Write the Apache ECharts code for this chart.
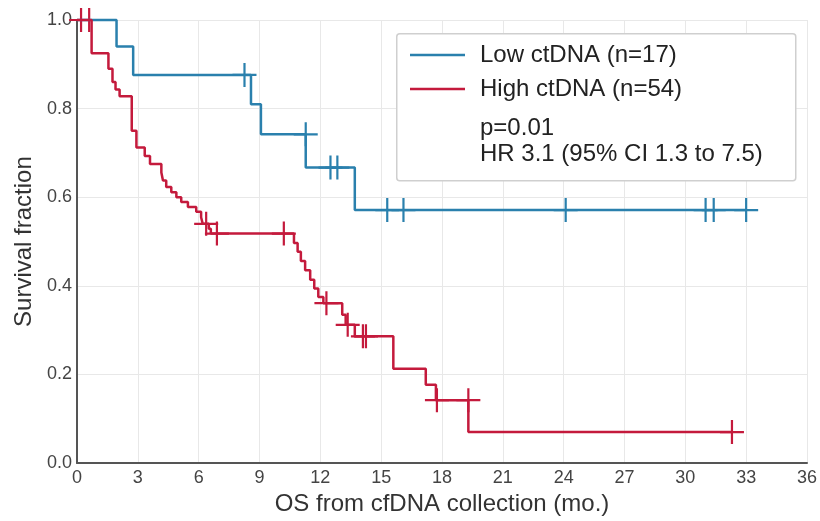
<!DOCTYPE html>
<html>
<head>
<meta charset="utf-8">
<script src="https://cdn.jsdelivr.net/npm/echarts@6/dist/echarts.min.js"></script>
<style>
  html, body { margin: 0; padding: 0; background: #fff; }
  #main { width: 820px; height: 521px; }
</style>
</head>
<body>
<div id="main"></div>
<script>
// x ticks (months) and y ticks
var xTicks = [0, 3, 6, 9, 12, 15, 18, 21, 24, 27, 30, 33, 36];
var yTicks = [0, 0.2, 0.4, 0.6, 0.8, 1.0];

// Low ctDNA (n=17): event times and survival after each step
var lowTimes = [0, 1.95, 2.77, 8.58, 9.07, 11.28, 13.7, 33.0];
var lowSurv  = [1.0, 0.940, 0.876, 0.810, 0.742, 0.667, 0.571, 0.571];
var lowCensor = [8.26, 11.28, 12.5, 12.84, 15.3, 16.1, 24.1, 31.0, 31.4, 33.0];

// High ctDNA (n=54)
var highTimes = [0, 0.72, 1.55, 1.75, 1.9, 2.1, 2.7, 2.93, 3.34, 3.6, 4.16, 4.24, 4.4, 4.65, 4.9,
  5.14, 5.47, 5.88, 6.12, 6.2, 6.5, 6.6, 10.7, 10.88, 11.04, 11.25, 11.5, 11.7, 11.9, 12.15,
  13.08, 13.25, 13.7, 15.6, 17.2, 17.7, 19.3, 32.3];
var highSurv  = [1.0, 0.925, 0.89, 0.86, 0.843, 0.828, 0.75, 0.712, 0.693, 0.675, 0.656, 0.638, 0.623, 0.611, 0.600,
  0.589, 0.578, 0.567, 0.555, 0.540, 0.529, 0.518, 0.497, 0.477, 0.456, 0.435, 0.414, 0.394, 0.375, 0.361,
  0.335, 0.312, 0.286, 0.213, 0.177, 0.142, 0.07, 0.07];
var highCensor = [0.2, 0.6, 6.37, 6.9, 10.2, 12.3, 13.35, 14.1, 14.25, 17.75, 19.3, 32.3];

var blue = '#2a80ad';
var red = '#c41a3c';
var plus = 'path://M-1.1,-12 H1.1 V-1.1 H12 V1.1 H1.1 V12 H-1.1 V1.1 H-12 V-1.1 H-1.1 Z';

// survival value just before time t
function survAt(times, surv, t) {
  var v = surv[0];
  for (var i = 0; i < times.length; i++) {
    if (times[i] < t) v = surv[i];
  }
  return v;
}
function pairs(times, surv) {
  return times.map(function (t, i) { return [t, surv[i]]; });
}
function censorPts(c, times, surv) {
  return c.map(function (t) { return [t, survAt(times, surv, t)]; });
}

var chart = echarts.init(document.getElementById('main'));
var font = 'Liberation Sans, Arial, sans-serif';

chart.setOption({
  backgroundColor: '#fff',
  animation: false,
  grid: { left: 77, right: 10, top: 20, bottom: 54 },
  xAxis: {
    type: 'value', min: 0, max: 36, interval: 3,
    name: 'OS from cfDNA collection (mo.)',
    nameLocation: 'middle', nameGap: 27,
    nameTextStyle: { fontSize: 24, color: '#333', fontFamily: font },
    axisLine: { show: true, onZero: false, lineStyle: { color: '#555', width: 2 } },
    axisTick: { show: false },
    axisLabel: { fontSize: 18, color: '#444', margin: 6, fontFamily: font,
      formatter: function (v) { return xTicks.indexOf(v) >= 0 ? String(v) : ''; } },
    splitLine: { show: true, lineStyle: { color: '#e8e8e8', width: 1 } }
  },
  yAxis: {
    type: 'value', min: 0, max: 1, interval: 0.2,
    name: 'Survival fraction',
    nameLocation: 'middle', nameGap: 36,
    nameTextStyle: { fontSize: 24, color: '#333', fontFamily: font },
    axisLine: { show: true, lineStyle: { color: '#555', width: 2 } },
    axisTick: { show: false },
    axisLabel: { fontSize: 18, color: '#444', margin: 5, fontFamily: font,
      formatter: function (v) { return v.toFixed(1); } },
    splitLine: { show: true, lineStyle: { color: '#e8e8e8', width: 1 } }
  },
  legend: {
    orient: 'vertical', left: 405, top: 38, itemGap: 10, z: 20,
    icon: 'rect', itemWidth: 55, itemHeight: 2.5,
    data: ['Low ctDNA (n=17)', 'High ctDNA (n=54)'],
    textStyle: { fontSize: 24, color: '#222', fontFamily: font, padding: [0, 0, 0, 10] }
  },
  graphic: [
    { type: 'rect', left: 396, top: 33, z: 5,
      shape: { width: 399, height: 147, r: 3 },
      style: { fill: '#fff', stroke: '#cfcfcf', lineWidth: 1.5 } },
    { type: 'text', left: 480, top: 115, z: 6,
      style: { text: 'p=0.01\nHR 3.1 (95% CI 1.3 to 7.5)', fontSize: 24, lineHeight: 26,
        fill: '#222', fontFamily: font } }
  ],
  series: [
    { name: 'Low ctDNA (n=17)', type: 'line', step: 'end', showSymbol: false, clip: false,
      data: pairs(lowTimes, lowSurv), color: blue, lineStyle: { width: 2.5, color: blue } },
    { name: 'High ctDNA (n=54)', type: 'line', step: 'end', showSymbol: false, clip: false,
      data: pairs(highTimes, highSurv), color: red, lineStyle: { width: 2.5, color: red } },
    { name: 'low censor', type: 'scatter', symbol: plus, symbolSize: 24,
      data: censorPts(lowCensor, lowTimes, lowSurv), itemStyle: { color: blue, opacity: 1 } },
    { name: 'high censor', type: 'scatter', symbol: plus, symbolSize: 24,
      data: censorPts(highCensor, highTimes, highSurv), itemStyle: { color: red, opacity: 1 } }
  ]
});
</script>
</body>
</html>
